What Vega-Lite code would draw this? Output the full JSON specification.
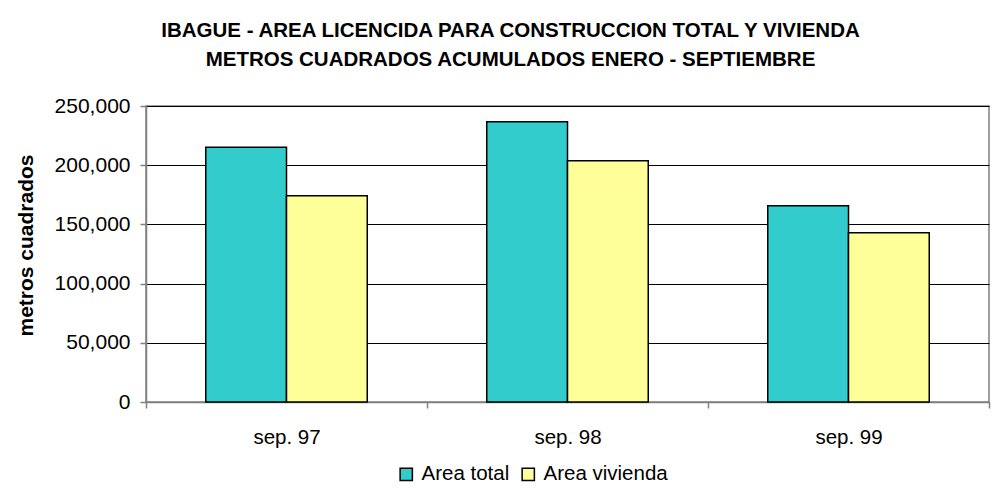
{
  "$schema": "https://vega.github.io/schema/vega-lite/v6.json",
  "autosize": {"type": "none"},
  "width": 843,
  "height": 296,
  "padding": {"left": 146, "top": 106, "right": 4, "bottom": 88},
  "background": "white",
  "title": {
    "text": ["IBAGUE - AREA LICENCIDA PARA CONSTRUCCION TOTAL Y VIVIENDA", "METROS CUADRADOS ACUMULADOS ENERO - SEPTIEMBRE"],
    "font": "Liberation Sans",
    "fontSize": 20.5,
    "fontWeight": "bold",
    "color": "black",
    "lineHeight": 29,
    "anchor": "middle",
    "dx": -57,
    "offset": 25
  },
  "data": {
    "values": [
      {"periodo": "sep. 97", "serie": "Area total", "valor": 215200},
      {"periodo": "sep. 97", "serie": "Area vivienda", "valor": 174200},
      {"periodo": "sep. 98", "serie": "Area total", "valor": 236700},
      {"periodo": "sep. 98", "serie": "Area vivienda", "valor": 203700},
      {"periodo": "sep. 99", "serie": "Area total", "valor": 165700},
      {"periodo": "sep. 99", "serie": "Area vivienda", "valor": 142900}
    ]
  },
  "mark": {"type": "bar", "stroke": "black", "strokeWidth": 1.5},
  "encoding": {
    "x": {
      "field": "periodo",
      "type": "nominal",
      "sort": null,
      "scale": {"paddingInner": 0, "paddingOuter": 0},
      "axis": {
        "title": null,
        "labelAngle": 0,
        "labelFont": "Liberation Sans",
        "labelFontSize": 20.5,
        "labelColor": "black",
        "labelPadding": 19,
        "tickBand": "extent",
        "tickSize": 6,
        "tickColor": "#808080",
        "tickWidth": 1.5,
        "domainColor": "#808080",
        "domainWidth": 1.5,
        "grid": false
      }
    },
    "xOffset": {
      "field": "serie",
      "type": "nominal",
      "scale": {"paddingInner": 0, "paddingOuter": 0.74}
    },
    "y": {
      "field": "valor",
      "type": "quantitative",
      "scale": {"domain": [0, 250000], "nice": false},
      "axis": {
        "title": "metros cuadrados",
        "titleFont": "Liberation Sans",
        "titleFontSize": 21,
        "titleFontWeight": "bold",
        "titleColor": "black",
        "titlePadding": 18,
        "titleY": 139,
        "values": [0, 50000, 100000, 150000, 200000, 250000],
        "format": ",d",
        "labelFont": "Liberation Sans",
        "labelFontSize": 21,
        "labelColor": "black",
        "labelPadding": 10,
        "tickSize": 6,
        "tickColor": "#808080",
        "tickWidth": 1.5,
        "domainColor": "#808080",
        "domainWidth": 1.5,
        "grid": true,
        "gridColor": "black",
        "gridWidth": 1
      }
    },
    "color": {
      "field": "serie",
      "type": "nominal",
      "scale": {"domain": ["Area total", "Area vivienda"], "range": ["#33CCCC", "#FFFF99"]},
      "legend": {
        "title": null,
        "orient": "none",
        "legendX": 250,
        "legendY": 358,
        "direction": "horizontal",
        "symbolType": "square",
        "symbolSize": 150,
        "symbolStrokeColor": "black",
        "symbolStrokeWidth": 1.5,
        "symbolOpacity": 1,
        "labelFont": "Liberation Sans",
        "labelFontSize": 20.5,
        "labelColor": "black",
        "labelOffset": 5,
        "columnPadding": 8
      }
    }
  },
  "config": {
    "view": {"stroke": "#808080", "strokeWidth": 1.5},
    "axis": {"gridOpacity": 1}
  }
}
